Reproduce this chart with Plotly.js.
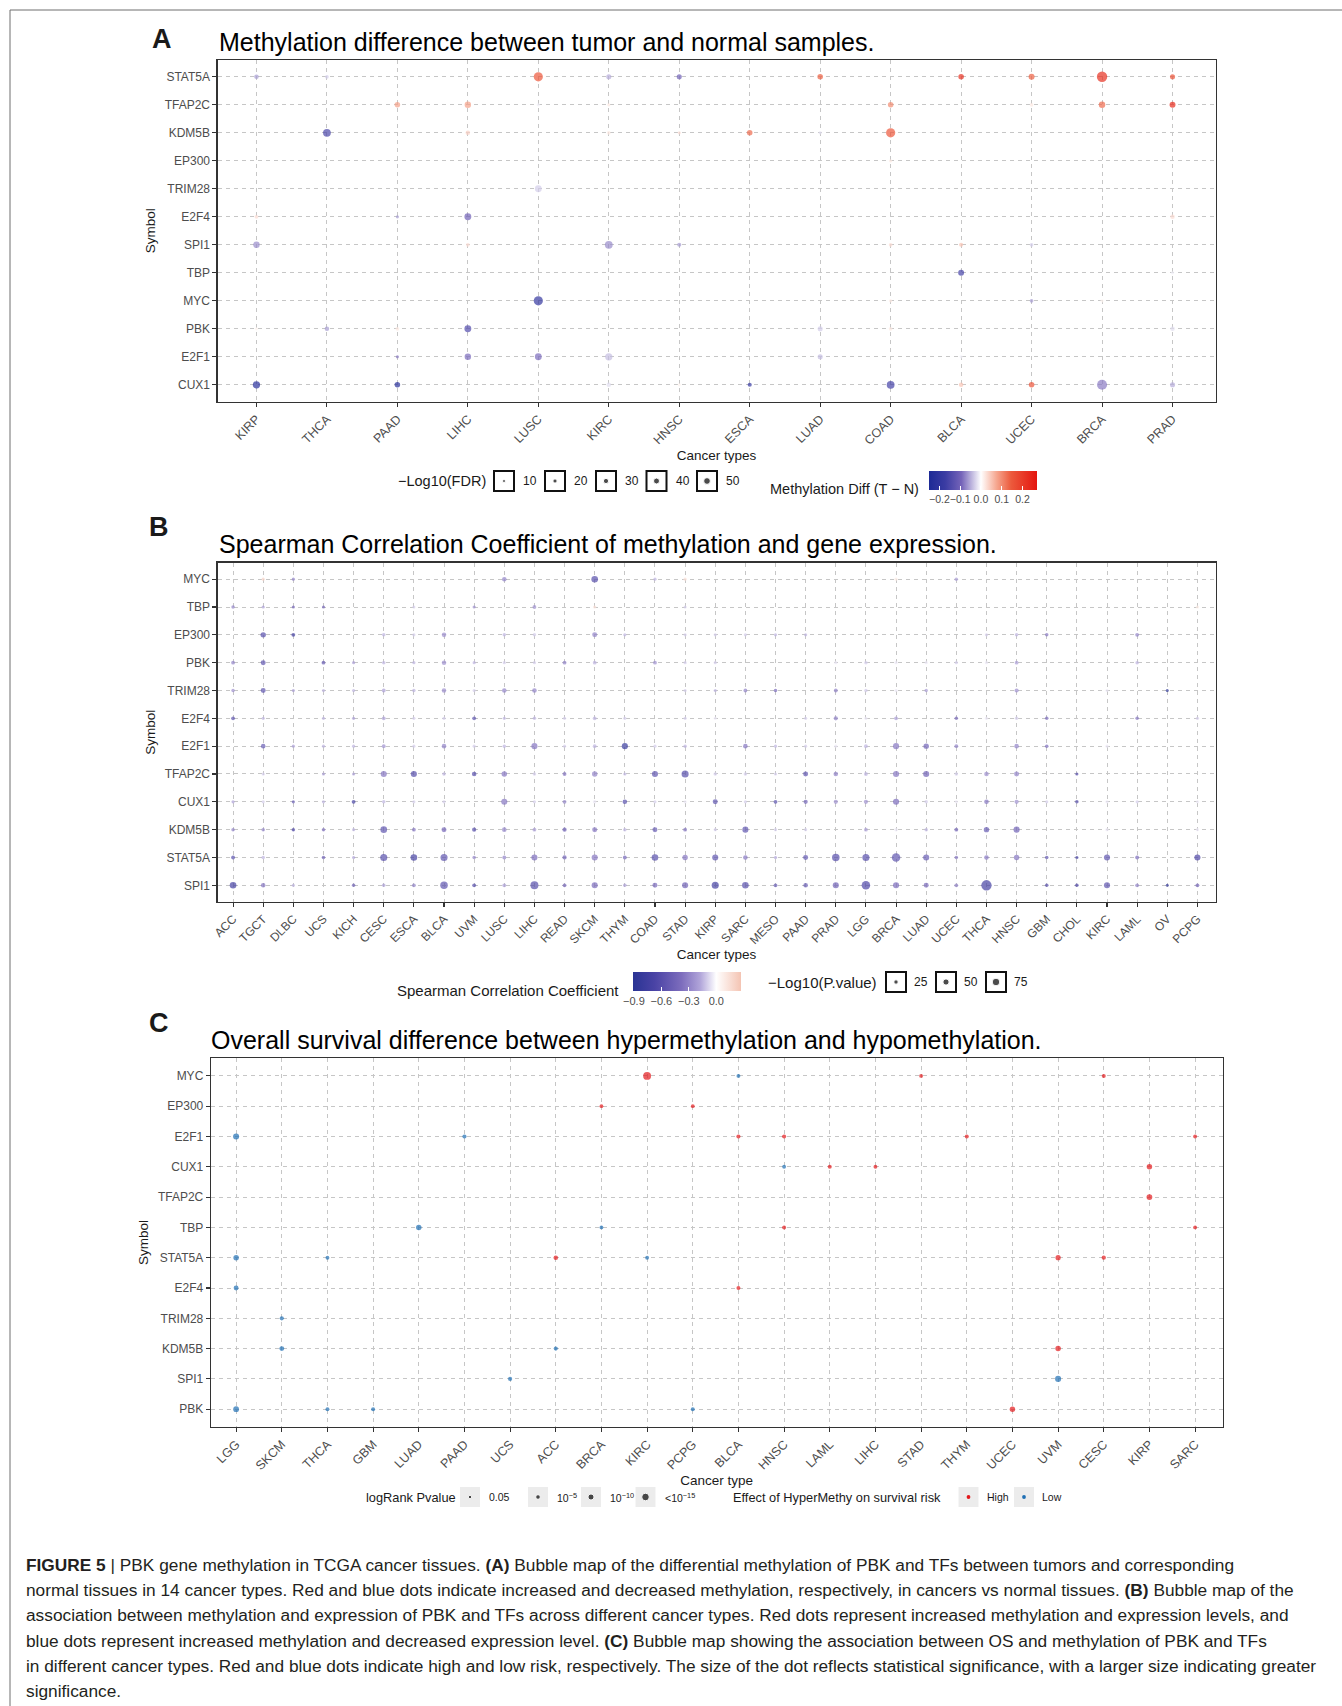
<!DOCTYPE html>
<html><head><meta charset="utf-8">
<script src="https://cdn.plot.ly/plotly-3.0.1.min.js"></script>
<style>html,body{margin:0;padding:0;background:#fff;}#chart{width:1342px;height:1706px;}</style>
</head><body><div id="chart"></div>
<script>
const n = null;
// ---------------- Panel A : methylation difference ----------------
const genesA = ['STAT5A','TFAP2C','KDM5B','EP300','TRIM28','E2F4','SPI1','TBP','MYC','PBK','E2F1','CUX1'];
const cancersA = ['KIRP','THCA','PAAD','LIHC','LUSC','KIRC','HNSC','ESCA','LUAD','COAD','BLCA','UCEC','BRCA','PRAD'];
const methDiffA = [
  [-0.06,-0.03,n,n,0.15,-0.05,-0.10,n,0.14,n,0.22,0.14,0.22,0.16],
  [n,n,0.08,0.08,-0.01,0.02,n,n,n,0.10,n,0.02,0.13,0.23],
  [n,-0.15,n,0.04,n,0.02,0.03,0.13,-0.02,0.15,n,n,n,n],
  [n,n,n,n,n,n,n,n,n,0.02,n,n,n,n],
  [n,n,n,n,-0.03,n,n,n,n,n,n,n,n,n],
  [0.03,n,-0.06,-0.10,n,n,n,n,n,n,n,n,n,0.03],
  [-0.07,n,n,0.03,n,-0.07,-0.06,n,n,0.03,0.05,-0.03,n,n],
  [n,n,n,n,n,n,n,n,n,n,-0.16,n,n,-0.01],
  [n,n,n,n,-0.19,n,n,n,n,0.02,n,-0.06,0.01,n],
  [0.01,-0.06,0.02,-0.14,n,n,n,n,-0.03,0.02,n,n,n,-0.02],
  [n,n,-0.08,-0.09,-0.09,-0.04,n,n,-0.04,n,-0.01,n,n,n],
  [-0.22,n,-0.22,n,0.00,-0.02,0.01,-0.18,n,-0.16,0.05,0.16,-0.08,-0.05]
];
const log10FdrA = [
  [23,15,n,n,94,29,29,n,34,n,34,39,120,29],
  [n,n,34,46,11,11,n,n,n,34,n,15,46,39],
  [n,68,n,23,n,15,11,34,11,94,n,n,n,n],
  [n,n,n,n,n,n,n,n,n,11,n,n,n,n],
  [n,n,n,n,52,n,n,n,n,n,n,n,n,n],
  [15,n,11,52,n,n,n,n,n,n,n,n,n,23],
  [46,n,n,15,n,68,19,n,n,15,19,15,n,n],
  [n,n,n,n,n,n,n,n,n,n,39,n,n,11],
  [n,n,n,n,94,n,n,n,n,11,n,15,11,n],
  [11,23,15,52,n,n,n,n,29,15,n,n,n,23],
  [n,n,11,46,52,59,n,n,29,n,11,n,n,n],
  [59,n,34,n,11,23,11,19,n,68,23,34,112,29]
];
const fdrLegendA = [10,20,30,40,50];
const diffTicksA = [-0.2,-0.1,0.0,0.1,0.2];

// ---------------- Panel B : Spearman correlation ----------------
const genesB = ['MYC','TBP','EP300','PBK','TRIM28','E2F4','E2F1','TFAP2C','CUX1','KDM5B','STAT5A','SPI1'];
const cancersB = ['ACC','TGCT','DLBC','UCS','KICH','CESC','ESCA','BLCA','UVM','LUSC','LIHC','READ','SKCM','THYM','COAD','STAD','KIRP','SARC','MESO','PAAD','PRAD','LGG','BRCA','LUAD','UCEC','THCA','HNSC','GBM','CHOL','KIRC','LAML','OV','PCPG'];
const spearmanB = [
  [n,0.2,-0.3,n,n,n,n,n,n,-0.3,n,n,-0.6,n,-0.15,0.15,n,n,n,n,n,n,0.1,n,-0.2,n,n,n,n,n,n,n,n],
  [-0.3,-0.2,-0.4,-0.4,n,n,-0.1,n,-0.25,n,-0.25,n,0.15,n,n,-0.1,n,n,n,n,n,n,n,n,n,n,n,n,n,n,n,n,0.1],
  [n,-0.6,-0.7,n,n,-0.15,-0.1,-0.25,n,-0.15,-0.1,n,-0.3,-0.15,n,-0.1,-0.1,-0.1,-0.15,-0.15,n,n,n,n,n,-0.1,-0.15,-0.35,n,n,-0.3,n,n],
  [-0.3,-0.55,n,-0.5,-0.2,-0.15,-0.15,-0.25,-0.15,-0.1,-0.1,-0.3,-0.15,n,-0.25,-0.1,-0.1,n,n,n,-0.05,-0.1,-0.05,-0.05,-0.1,-0.05,-0.2,n,n,n,-0.15,n,n],
  [-0.25,-0.55,-0.2,-0.15,-0.15,-0.2,-0.15,-0.25,-0.1,-0.3,-0.3,n,n,n,n,-0.1,-0.15,-0.3,-0.4,n,-0.3,-0.1,-0.05,-0.2,n,n,-0.25,n,n,-0.05,n,-0.9,n],
  [-0.55,-0.15,n,-0.15,-0.2,-0.2,-0.1,-0.1,-0.55,-0.15,-0.15,-0.1,-0.15,-0.1,n,-0.1,-0.05,n,n,-0.1,-0.3,-0.05,-0.2,n,-0.4,-0.05,-0.1,-0.4,n,n,-0.35,n,-0.1],
  [n,-0.5,-0.2,-0.15,-0.15,-0.25,-0.1,-0.3,-0.1,-0.15,-0.35,-0.1,-0.15,-0.8,-0.1,-0.15,n,-0.35,-0.15,-0.1,-0.05,-0.15,-0.35,-0.45,-0.3,n,-0.3,-0.4,n,-0.05,n,n,n],
  [n,-0.1,n,-0.2,-0.2,-0.35,-0.6,-0.15,-0.6,-0.35,-0.1,-0.35,-0.3,-0.15,-0.55,-0.6,-0.1,-0.1,-0.1,-0.55,-0.3,-0.15,-0.35,-0.45,-0.1,-0.25,-0.3,n,-0.6,n,n,n,n],
  [-0.2,-0.1,-0.5,-0.15,-0.7,-0.15,-0.1,-0.1,n,-0.35,-0.1,-0.3,-0.05,-0.6,-0.1,-0.05,-0.55,-0.1,-0.6,-0.45,-0.25,-0.25,-0.4,-0.1,-0.05,-0.35,-0.25,-0.1,-0.6,-0.05,-0.1,n,-0.05],
  [-0.3,-0.3,-0.65,-0.35,-0.15,-0.55,-0.35,-0.4,-0.6,-0.3,-0.2,-0.45,-0.35,-0.15,-0.5,-0.35,-0.1,-0.55,-0.1,-0.1,n,-0.2,-0.05,-0.15,-0.4,-0.5,-0.45,n,n,-0.05,n,n,-0.05],
  [-0.6,-0.15,n,-0.45,-0.2,-0.6,-0.7,-0.55,-0.3,-0.3,-0.4,-0.45,-0.35,-0.45,-0.6,-0.35,-0.55,-0.35,-0.2,-0.55,-0.6,-0.6,-0.55,-0.5,-0.35,-0.35,-0.35,-0.55,-0.7,-0.55,-0.4,n,-0.65],
  [-0.7,-0.35,-0.15,n,-0.45,-0.2,-0.3,-0.55,-0.6,-0.2,-0.6,-0.4,-0.4,-0.2,-0.4,-0.45,-0.7,-0.6,-0.5,-0.5,-0.45,-0.65,-0.4,-0.4,-0.3,-0.7,n,-0.6,-0.65,-0.55,-0.3,-0.85,-0.4]
];
const log10PB = [
  [n,13,13,n,n,n,n,n,n,27,n,n,57,n,13,13,n,n,n,n,n,n,13,n,16,n,n,n,n,n,n,n,n],
  [16,13,13,13,n,n,10,n,13,n,19,n,13,n,n,10,n,n,n,n,n,n,n,n,n,n,n,n,n,n,n,n,13],
  [n,38,19,n,n,16,13,27,n,16,16,n,32,13,n,13,13,13,13,13,n,n,n,n,n,13,16,16,n,n,19,n,n],
  [19,32,n,19,13,16,13,27,13,13,13,19,19,n,19,13,13,n,n,n,13,16,13,13,13,13,19,n,n,n,16,n,n],
  [16,32,13,13,13,19,16,27,13,27,27,n,n,n,n,13,13,19,16,n,19,16,13,16,n,n,23,n,n,10,n,10,n],
  [19,13,n,13,13,19,13,13,19,13,16,13,19,13,n,13,10,n,n,13,23,13,19,n,16,13,16,16,n,n,16,n,13],
  [n,27,13,13,13,19,13,27,13,16,48,13,19,48,13,16,n,27,13,13,13,19,48,38,19,n,27,16,n,13,n,n,n],
  [n,13,n,13,13,48,48,16,27,38,16,19,38,13,48,65,16,16,13,32,27,19,48,48,16,27,32,n,13,n,n,n,n],
  [13,13,13,13,19,16,13,13,n,48,13,19,16,27,13,13,32,13,19,23,23,23,48,16,13,27,23,13,16,13,13,n,10],
  [16,16,16,16,13,57,19,32,23,27,19,23,32,16,32,19,13,48,13,13,n,19,16,16,19,38,48,n,n,13,n,n,13],
  [19,16,n,16,13,65,57,65,16,19,48,23,48,19,57,38,48,27,13,32,73,65,94,48,16,27,38,16,13,48,19,n,48],
  [57,27,13,n,16,16,19,73,19,19,82,19,48,16,32,48,65,57,19,27,48,94,48,32,19,139,n,16,16,48,19,10,19]
];
const pLegendB = [25,50,75];
const rhoTicksB = [-0.9,-0.6,-0.3,0.0];

// ---------------- Panel C : overall survival ----------------
const genesC = ['MYC','EP300','E2F1','CUX1','TFAP2C','TBP','STAT5A','E2F4','TRIM28','KDM5B','SPI1','PBK'];
const cancersC = ['LGG','SKCM','THCA','GBM','LUAD','PAAD','UCS','ACC','BRCA','KIRC','PCPG','BLCA','HNSC','LAML','LIHC','STAD','THYM','UCEC','UVM','CESC','KIRP','SARC'];
// 1 = High risk, -1 = Low risk
const riskC = [
  [n,n,n,n,n,n,n,n,n,1,n,-1,n,n,n,1,n,n,n,1,n,n],
  [n,n,n,n,n,n,n,n,1,n,1,n,n,n,n,n,n,n,n,n,n,n],
  [-1,n,n,n,n,-1,n,n,n,n,n,1,1,n,n,n,1,n,n,n,n,1],
  [n,n,n,n,n,n,n,n,n,n,n,n,-1,1,1,n,n,n,n,n,1,n],
  [n,n,n,n,n,n,n,n,n,n,n,n,n,n,n,n,n,n,n,n,1,n],
  [n,n,n,n,-1,n,n,n,-1,n,n,n,1,n,n,n,n,n,n,n,n,1],
  [-1,n,-1,n,n,n,n,1,n,-1,n,n,n,n,n,n,n,n,1,1,n,n],
  [-1,n,n,n,n,n,n,n,n,n,n,1,n,n,n,n,n,n,n,n,n,n],
  [n,-1,n,n,n,n,n,n,n,n,n,n,n,n,n,n,n,n,n,n,n,n],
  [n,-1,n,n,n,n,n,-1,n,n,n,n,n,n,n,n,n,n,1,n,n,n],
  [n,n,n,n,n,n,-1,n,n,n,n,n,n,n,n,n,n,n,-1,n,n,n],
  [-1,n,-1,-1,n,n,n,n,n,n,-1,n,n,n,n,n,n,1,n,n,n,n]
];
// approximate -log10(logRank P)
const log10PC = [
  [n,n,n,n,n,n,n,n,n,16,n,2.5,n,n,n,2.5,n,n,n,3,n,n],
  [n,n,n,n,n,n,n,n,2.5,n,2.5,n,n,n,n,n,n,n,n,n,n,n],
  [10,n,n,n,n,3.5,n,n,n,n,n,3.5,3.5,n,n,n,3,n,n,n,n,2.5],
  [n,n,n,n,n,n,n,n,n,n,n,n,2.5,3,2.5,n,n,n,n,n,8,n],
  [n,n,n,n,n,n,n,n,n,n,n,n,n,n,n,n,n,n,n,n,9,n],
  [n,n,n,n,8,n,n,n,2.5,n,n,n,3,n,n,n,n,n,n,n,n,2.5],
  [8,n,2.5,n,n,n,n,5,n,2.5,n,n,n,n,n,n,n,n,7,4,n,n],
  [6,n,n,n,n,n,n,n,n,n,n,3,n,n,n,n,n,n,n,n,n,n],
  [n,3.5,n,n,n,n,n,n,n,n,n,n,n,n,n,n,n,n,n,n,n,n],
  [n,6,n,n,n,n,n,3.5,n,n,n,n,n,n,n,n,n,n,8,n,n,n],
  [n,n,n,n,n,n,3.5,n,n,n,n,n,n,n,n,n,n,n,10,n,n,n],
  [9,n,3,3,n,n,n,n,n,n,3,n,n,n,n,n,n,8,n,n,n,n]
];
const pLegendC = [1.3,5,10,15];
const pLegendLabelsC = ['0.05','10<sup>−5</sup>','10<sup>−10</sup>','<10<sup>−15</sup>'];
const riskLabelsC = ['High','Low'];

// ---------------- helpers ----------------
const W = 1342, H = 1706;
const PX = v => v / W, PY = v => 1 - v / H;
const FONT = 'Liberation Sans, Arial, Helvetica, sans-serif';
const sizeA = v => Math.max(2.6, 0.95 * Math.sqrt(v));
const sizeB = v => Math.max(3, 0.88 * Math.sqrt(v));
const sizeC = v => 3.1 + 0.3 * v;
const RED = '#E3191C', BLUE = '#1F6FB4';

function points(genes, cancers, colM, sizeM) {
  const o = {x:[], y:[], c:[], s:[]};
  genes.forEach((g, i) => cancers.forEach((k, j) => {
    if (colM[i][j] !== null && sizeM[i][j] !== null) {
      o.x.push(k); o.y.push(g); o.c.push(colM[i][j]); o.s.push(sizeM[i][j]);
    }
  }));
  return o;
}
const pa = points(genesA, cancersA, methDiffA, log10FdrA);
const pb = points(genesB, cancersB, spearmanB, log10PB);
const pc = points(genesC, cancersC, riskC, log10PC);

const traces = [];
traces.push({type:'scatter', mode:'markers', x:pa.x, y:pa.y, xaxis:'x', yaxis:'y', hoverinfo:'skip',
  marker:{color:pa.c, coloraxis:'coloraxis', size:pa.s.map(sizeA), line:{width:0}}});
traces.push({type:'scatter', mode:'markers', x:pb.x, y:pb.y, xaxis:'x2', yaxis:'y2', hoverinfo:'skip',
  marker:{color:pb.c, coloraxis:'coloraxis2', size:pb.s.map(sizeB), line:{width:0}}});
[1, -1].forEach(r => {
  const idx = pc.c.map((v, i) => v === r ? i : -1).filter(i => i >= 0);
  traces.push({type:'scatter', mode:'markers', x:idx.map(i => pc.x[i]), y:idx.map(i => pc.y[i]),
    xaxis:'x3', yaxis:'y3', hoverinfo:'skip',
    marker:{color: r === 1 ? RED : BLUE, size: idx.map(i => sizeC(pc.s[i])), line:{width:0}}});
});

// ---------------- legends (pixel overlay x4/y4) ----------------
const shapes = [], ann = [];
const txt = (x, y, text, size, opt) => ann.push(Object.assign({xref:'x4', yref:'y4', x, y, text, showarrow:false,
  xanchor:'left', yanchor:'middle', font:{family:FONT, size, color:'#1a1a1a'}}, opt || {}));
const boxBlack = (cx, cy, s) => shapes.push({type:'rect', xref:'x4', yref:'y4', x0:cx - s/2, x1:cx + s/2, y0:cy - s/2, y1:cy + s/2,
  line:{color:'#111', width:2}, fillcolor:'rgba(0,0,0,0)'});
const boxGrey = (cx, cy, s) => shapes.push({type:'rect', xref:'x4', yref:'y4', layer:'below', x0:cx - s/2, x1:cx + s/2, y0:cy - s/2, y1:cy + s/2,
  line:{width:0}, fillcolor:'#ececec'});

// legend A
const legAx = [504, 555, 606, 656.5, 707], legAy = 481;
txt(488, legAy, '−Log10(FDR)', 14.5, {xanchor:'right'});
fdrLegendA.forEach((v, i) => { boxBlack(legAx[i], legAy, 20); txt(legAx[i] + 17, legAy, String(v), 12); });
traces.push({type:'scatter', mode:'markers', xaxis:'x4', yaxis:'y4', hoverinfo:'skip', x:legAx, y:legAx.map(() => legAy),
  marker:{color:'#000', size:fdrLegendA.map(sizeA)}});
txt(921, 489, 'Methylation Diff (T − N)', 14.5, {xanchor:'right'});

// legend B
const legBx = [896, 946, 996], legBy = 982;
txt(621, 990, 'Spearman Correlation Coefficient', 15, {xanchor:'right'});
txt(879, legBy, '−Log10(P.value)', 15, {xanchor:'right'});
pLegendB.forEach((v, i) => { boxBlack(legBx[i], legBy, 20); txt(legBx[i] + 16, legBy, String(v), 12); });
traces.push({type:'scatter', mode:'markers', xaxis:'x4', yaxis:'y4', hoverinfo:'skip', x:legBx, y:legBx.map(() => legBy),
  marker:{color:'#000', size:pLegendB.map(sizeB)}});

// legend C
const legCx = [470, 538, 591, 645.5], legCy = 1497;
txt(364, legCy, 'logRank Pvalue', 12.8);
pLegendC.forEach((v, i) => { boxGrey(legCx[i], legCy, 20); txt(legCx[i] + 17, legCy, pLegendLabelsC[i], 10.5); });
traces.push({type:'scatter', mode:'markers', xaxis:'x4', yaxis:'y4', hoverinfo:'skip', x:legCx, y:legCx.map(() => legCy),
  marker:{color:'#000', size:pLegendC.map(sizeC)}});
const legRx = [968.5, 1024];
txt(731, legCy, 'Effect of HyperMethy on survival risk', 12.8);
riskLabelsC.forEach((t, i) => { boxGrey(legRx[i], legCy, 20); txt(legRx[i] + 16, legCy, t, 10.5); });
traces.push({type:'scatter', mode:'markers', xaxis:'x4', yaxis:'y4', hoverinfo:'skip', x:legRx, y:legRx.map(() => legCy),
  marker:{color:[RED, BLUE], size:3.8}});

// titles and panel letters
const tfont = {family:FONT, size:25, color:'#000'};
txt(150, 38.5, '<b>A</b>', 27);
txt(217, 41.5, 'Methylation difference between tumor and normal samples.', 25, {font:tfont});
txt(147, 527, '<b>B</b>', 27);
txt(217, 543.5, 'Spearman Correlation Coefficient of methylation and gene expression.', 25, {font:tfont});
txt(147, 1023, '<b>C</b>', 27);
txt(209, 1039.5, 'Overall survival difference between hypermethylation and hypomethylation.', 25, {font:tfont});

// caption
const caption = [
  '<b>FIGURE 5</b> | PBK gene methylation in TCGA cancer tissues. <b>(A)</b> Bubble map of the differential methylation of PBK and TFs between tumors and corresponding',
  'normal tissues in 14 cancer types. Red and blue dots indicate increased and decreased methylation, respectively, in cancers vs normal tissues. <b>(B)</b> Bubble map of the',
  'association between methylation and expression of PBK and TFs across different cancer types. Red dots represent increased methylation and expression levels, and',
  'blue dots represent increased methylation and decreased expression level. <b>(C)</b> Bubble map showing the association between OS and methylation of PBK and TFs',
  'in different cancer types. Red and blue dots indicate high and low risk, respectively. The size of the dot reflects statistical significance, with a larger size indicating greater',
  'significance.'
];
caption.forEach((t, i) => txt(24, 1565 + i * 25.2, t, 17.3, {font:{family:FONT, size:17.3, color:'#231f20'}}));

// outer frame (top & left)
shapes.push({type:'line', xref:'x4', yref:'y4', x0:10, x1:10, y0:10, y1:H, line:{color:'#6e6e6e', width:1}});
shapes.push({type:'line', xref:'x4', yref:'y4', x0:10, x1:W, y0:10, y1:10, line:{color:'#6e6e6e', width:1}});

// ---------------- axes ----------------
const ax = {type:'category', categoryorder:'array', showgrid:true, gridcolor:'#c6c6c6', gridwidth:1, griddash:'4px,4px',
  showline:true, mirror:true, linecolor:'#333', linewidth:1.3, ticks:'outside', ticklen:4, tickwidth:1.1, tickcolor:'#333',
  zeroline:false, fixedrange:true, tickfont:{family:FONT, size:12, color:'#4d4d4d'}};
const xtf = {family:FONT, size:12.5, color:'#4d4d4d'};
const xt = t => ({text:t, font:{family:FONT, size:13.5, color:'#1a1a1a'}, standoff:3});
const yt = {text:'Symbol', font:{family:FONT, size:13.5, color:'#1a1a1a'}, standoff:6};

const cbCommon = {orientation:'h', xanchor:'left', yanchor:'top', len:108, lenmode:'pixels', thickness:19,
  xpad:0, ypad:0, outlinewidth:0, tickformat:'.1f', ticks:'inside', tickcolor:'#fff', ticklen:4, tickangle:0,
  tickfont:{family:FONT, size:11, color:'#4d4d4d'}};

const layout = {
  width:W, height:H, margin:{l:0, r:0, t:0, b:0}, paper_bgcolor:'#fff', plot_bgcolor:'rgba(0,0,0,0)',
  showlegend:false, font:{family:FONT, color:'#1a1a1a'},
  xaxis: Object.assign({}, ax, {domain:[PX(217.7), PX(1215.5)], anchor:'y', categoryarray:cancersA, range:[-0.55, 13.61], tickangle:-45, tickfont:xtf, title:xt('Cancer types')}),
  yaxis: Object.assign({}, ax, {domain:[PY(401.6), PY(60)], anchor:'x', categoryarray:genesA.slice().reverse(), range:[-0.6, 11.6], title:yt}),
  xaxis2: Object.assign({}, ax, {domain:[PX(217.7), PX(1215.5)], anchor:'y2', categoryarray:cancersB, range:[-0.51, 32.6], tickangle:-45, title:xt('Cancer types')}),
  yaxis2: Object.assign({}, ax, {domain:[PY(902), PY(562.5)], anchor:'x2', categoryarray:genesB.slice().reverse(), range:[-0.6, 11.6], title:yt}),
  xaxis3: Object.assign({}, ax, {domain:[PX(211), PX(1222.5)], anchor:'y3', categoryarray:cancersC, range:[-0.55, 21.6], tickangle:-45, tickfont:xtf, title:xt('Cancer type')}),
  yaxis3: Object.assign({}, ax, {domain:[PY(1426.8), PY(1058.3)], anchor:'x3', categoryarray:genesC.slice().reverse(), range:[-0.58, 11.58], title:yt}),
  xaxis4: {domain:[0,1], anchor:'y4', range:[0, W], visible:false, fixedrange:true},
  yaxis4: {domain:[0,1], anchor:'x4', range:[H, 0], visible:false, fixedrange:true},
  coloraxis: {cmin:-0.25, cmax:0.27,
    colorscale:[[0,'#1d2a96'],[0.15,'#3b3ca3'],[0.3,'#7564b9'],[0.481,'#ffffff'],[0.63,'#f5a48c'],[0.76,'#ec5a3c'],[1,'#e4150f']],
    colorbar:Object.assign({}, cbCommon, {x:PX(929), y:PY(471), tickvals:diffTicksA, tickfont:{family:FONT, size:10.5, color:'#4d4d4d'}})},
  coloraxis2: {cmin:-0.91, cmax:0.27,
    colorscale:[[0,'#2a3494'],[0.2,'#4a43a5'],[0.45,'#7d6dbd'],[0.62,'#b0a4d9'],[0.771,'#ffffff'],[1,'#f4c4b3']],
    colorbar:Object.assign({}, cbCommon, {x:PX(633), y:PY(972), tickvals:rhoTicksB})},
  shapes, annotations:ann
};
Plotly.newPlot('chart', traces, layout, {staticPlot:true, displayModeBar:false});
</script></body></html>
